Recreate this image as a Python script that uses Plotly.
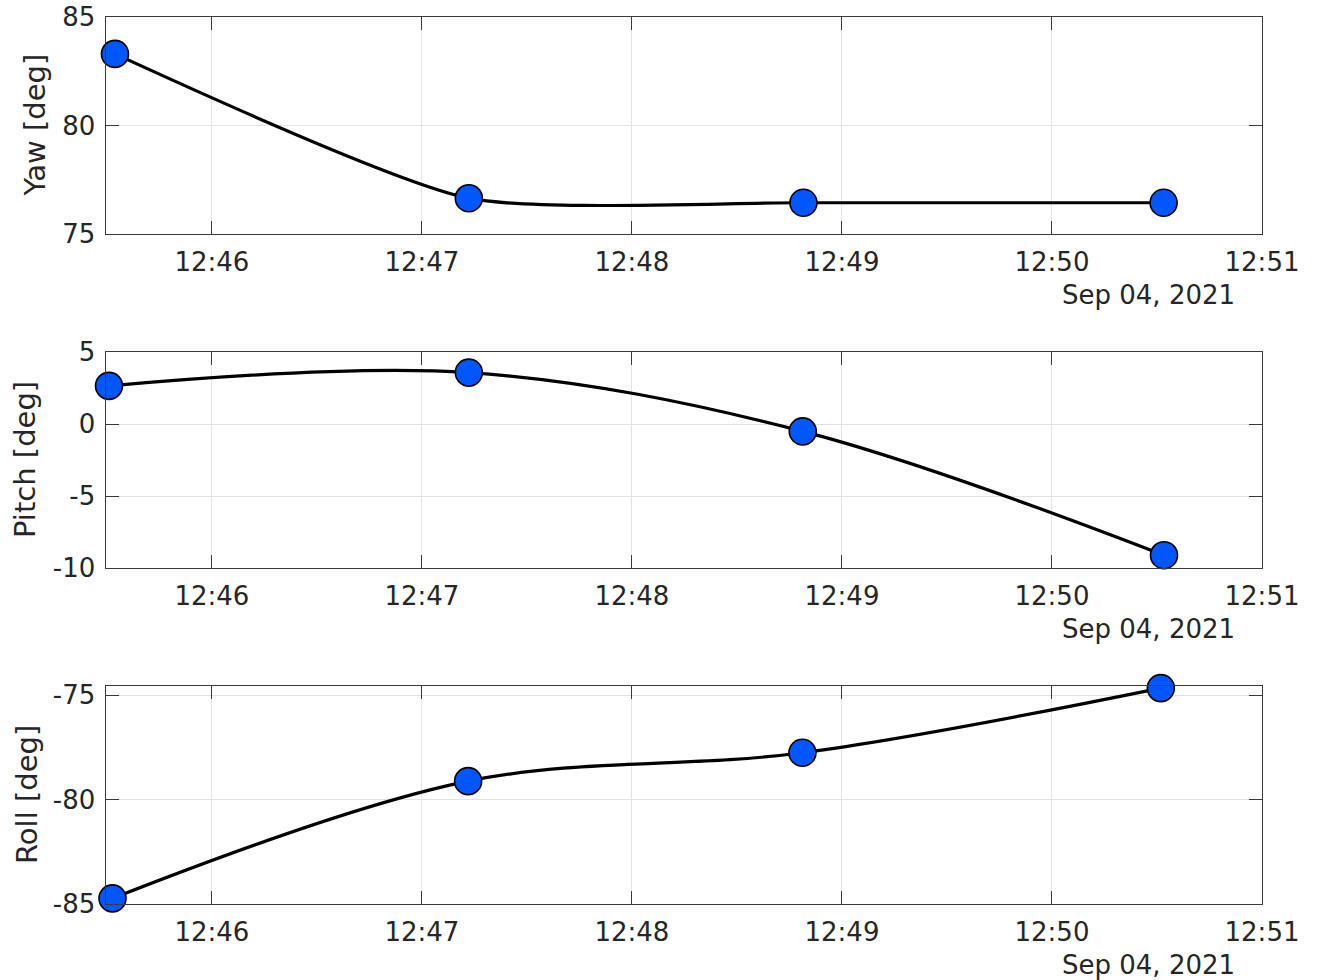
import plotly.graph_objects as go

DAY = "2021-09-04 "

yaw_times = ["12:45:32.3", "12:47:13.4", "12:48:49.0", "12:50:31.9"]
yaw_vals = [83.3, 76.65, 76.44, 76.44]

pitch_times = ["12:45:30.6", "12:47:13.4", "12:48:48.8", "12:50:32.0"]
pitch_vals = [2.65, 3.57, -0.51, -9.11]

roll_times = ["12:45:31.6", "12:47:13.2", "12:48:48.7", "12:50:31.1"]
roll_vals = [-84.73, -79.11, -77.75, -74.65]

y_labels = ["Yaw [deg]", "Pitch [deg]", "Roll [deg]"]
y_ranges = [[75, 85], [-10, 5], [-85, -74.55]]
y_ticks = [[75, 80, 85], [-10, -5, 0, 5], [-85, -80, -75]]
y_ticktext = [["75", "80", "85"], ["-10", "-5", "0", "5"], ["-85", "-80", "-75"]]
date_label = "Sep 04, 2021"

W, H = 1325, 980
FONT = "DejaVu Sans"
TXT = "#262626"
AX = "#3a3a3a"
GRID = "#e2e2e2"
MARK = "#0057FF"

# pixel boxes (top, bottom) of each panel
boxes = [(17, 234), (352, 568), (686, 904)]
x0px, x1px = 105.5, 1262
ylabel_x = [34, 25, 27]
smooth = [0.6, 1.0, 1.0]

fig = go.Figure()
series = [(yaw_times, yaw_vals), (pitch_times, pitch_vals), (roll_times, roll_vals)]
for i, (ts, vs) in enumerate(series):
    n = "" if i == 0 else str(i + 1)
    fig.add_trace(go.Scatter(
        x=[DAY + t for t in ts], y=vs,
        mode="lines+markers",
        line=dict(color="black", width=3.2, shape="spline", smoothing=smooth[i]),
        marker=dict(size=27, color=MARK, line=dict(color="black", width=1.6)),
        xaxis="x" + n, yaxis="y" + n, showlegend=False, cliponaxis=False,
    ))

layout = dict(
    width=W, height=H,
    margin=dict(l=0, r=0, t=0, b=0),
    paper_bgcolor="white", plot_bgcolor="white",
    font=dict(family=FONT, size=26, color=TXT),
    showlegend=False,
)
annotations = []
for i, (top, bot) in enumerate(boxes):
    n = "" if i == 0 else str(i + 1)
    dom_y = [1 - bot / H, 1 - top / H]
    layout["xaxis" + n] = dict(
        type="date",
        domain=[x0px / W, x1px / W],
        range=[DAY + "12:45:29.6", DAY + "12:51:00"],
        tick0=DAY + "12:46:00", dtick=60000, tickformat="%H:%M",
        ticks="inside", ticklen=13, tickcolor=AX, tickwidth=1,
        showline=True, linecolor=AX, linewidth=1, mirror="allticks",
        showgrid=True, gridcolor=GRID, gridwidth=1, zeroline=False,
        anchor="y" + n, automargin=False,
        tickfont=dict(family=FONT, size=26, color=TXT),
        ticklabelstandoff=5,
    )
    layout["yaxis" + n] = dict(
        domain=dom_y, range=y_ranges[i],
        tickvals=y_ticks[i], ticktext=y_ticktext[i],
        ticks="inside", ticklen=13, tickcolor=AX, tickwidth=1,
        showline=True, linecolor=AX, linewidth=1, mirror="allticks",
        showgrid=True, gridcolor=GRID, gridwidth=1, zeroline=False,
        anchor="x" + n, automargin=False,
        tickfont=dict(family=FONT, size=26, color=TXT),
        ticklabelstandoff=4,
    )
    annotations.append(dict(
        text=y_labels[i], textangle=-90, xref="paper", yref="paper",
        x=ylabel_x[i] / W, y=1 - (top + bot) / 2 / H,
        xanchor="center", yanchor="middle", showarrow=False,
        font=dict(family=FONT, size=29, color=TXT),
    ))
    annotations.append(dict(
        text=date_label, xref="paper", yref="paper",
        x=1148 / W, y=1 - (bot + 61) / H,
        xanchor="center", yanchor="middle", showarrow=False,
        font=dict(family=FONT, size=26, color=TXT),
    ))
layout["annotations"] = annotations
fig.update_layout(**layout)
fig.write_html("out.html")
